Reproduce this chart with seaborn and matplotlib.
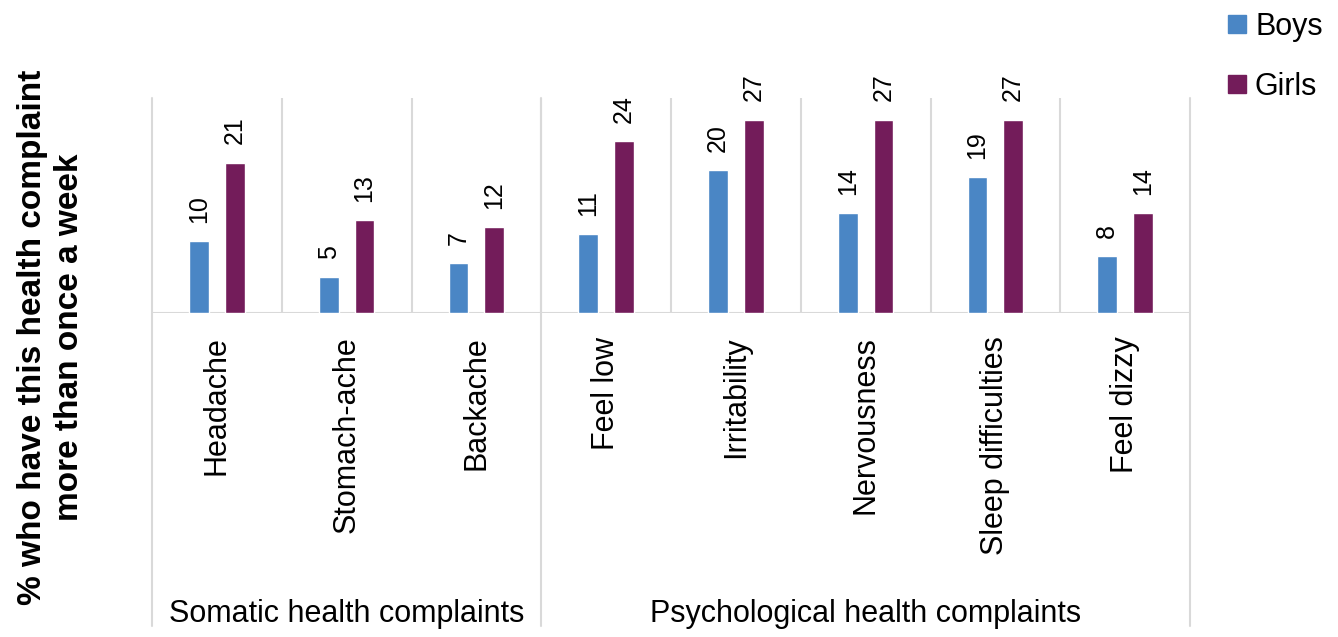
import matplotlib
matplotlib.use("Agg")
import pandas as pd
import seaborn as sns
import matplotlib.pyplot as plt
from matplotlib.lines import Line2D

# Данные
complaints = ["Headache", "Stomach-ache", "Backache", "Feel low", "Irritability",
              "Nervousness", "Sleep difficulties", "Feel dizzy"]
boys = [10, 5, 7, 11, 20, 14, 19, 8]
girls = [21, 13, 12, 24, 27, 27, 27, 14]
groups = ["Somatic health complaints", "Psychological health complaints"]
group_sizes = [3, 5]
sexes = ["Boys", "Girls"]
colors = {"Boys": "#4A86C5", "Girls": "#731C5A"}

df = pd.DataFrame({
    "complaint": complaints * 2,
    "sex": ["Boys"] * len(boys) + ["Girls"] * len(girls),
    "value": boys + girls,
})

sns.set_style("white")
plt.rcParams["font.family"] = ["Liberation Sans", "DejaVu Sans"]
plt.rcParams["text.color"] = "black"
plt.rcParams["xtick.color"] = "black"
grid_col = "#d9d9d9"

fig = plt.figure(figsize=(13.38, 6.37), dpi=100)
ax = fig.add_axes([152 / 1338, 1 - 313 / 637, (1190 - 152) / 1338, (313 - 98) / 637])

sns.barplot(data=df, x="complaint", y="value", hue="sex", order=complaints,
            hue_order=sexes, palette=colors, width=0.55, gap=0.45,
            legend=False, ax=ax, saturation=1)

for cont in ax.containers:
    ax.bar_label(cont, fmt="%d", rotation=90, padding=13, fontsize=18)

ax.set_xlim(-0.5, len(complaints) - 0.5)
ax.set_ylim(0, 30)
ax.set_yticks([])
ax.set_xlabel("")
ax.set_ylabel("")
ax.tick_params(axis="x", length=0, pad=17, labelsize=22, rotation=90)
for s in ax.spines.values():
    s.set_visible(False)

# Разделители категорий
for i in range(len(complaints) - 1):
    ax.axvline(i + 0.5, color=grid_col, lw=1.5, zorder=0)
ax.axhline(0, color=grid_col, lw=1.5, zorder=0)

# Разделители групп (до низа рисунка)
trans = ax.get_xaxis_transform()
bottom = -(313 / 637) / ((313 - 98) / 637)
edges = [-0.5]
for n in group_sizes:
    edges.append(edges[-1] + n)
for e in edges:
    ax.plot([e, e], [bottom, 1], color=grid_col, lw=1.5, transform=trans,
            clip_on=False, zorder=0)

# Подписи групп
for g, lo, hi in zip(groups, edges[:-1], edges[1:]):
    ax.text((lo + hi) / 2, bottom + 0.055, g, transform=trans, ha="center",
            va="center", fontsize=22)

fig.text(0.038, 0.47, "% who have this health complaint\nmore than once a week",
         rotation=90, ha="center", va="center", fontsize=24, fontweight="bold",
         multialignment="center", linespacing=1.25)

handles = [Line2D([], [], marker="s", ls="", markersize=13, color=colors[s]) for s in sexes]
fig.legend(handles, sexes, loc="upper left", bbox_to_anchor=(1200 / 1338, 1.025),
           frameon=False, fontsize=22, handlelength=0.6, handletextpad=0.3,
           labelspacing=1.0)

fig.savefig("out.png", dpi=100)
